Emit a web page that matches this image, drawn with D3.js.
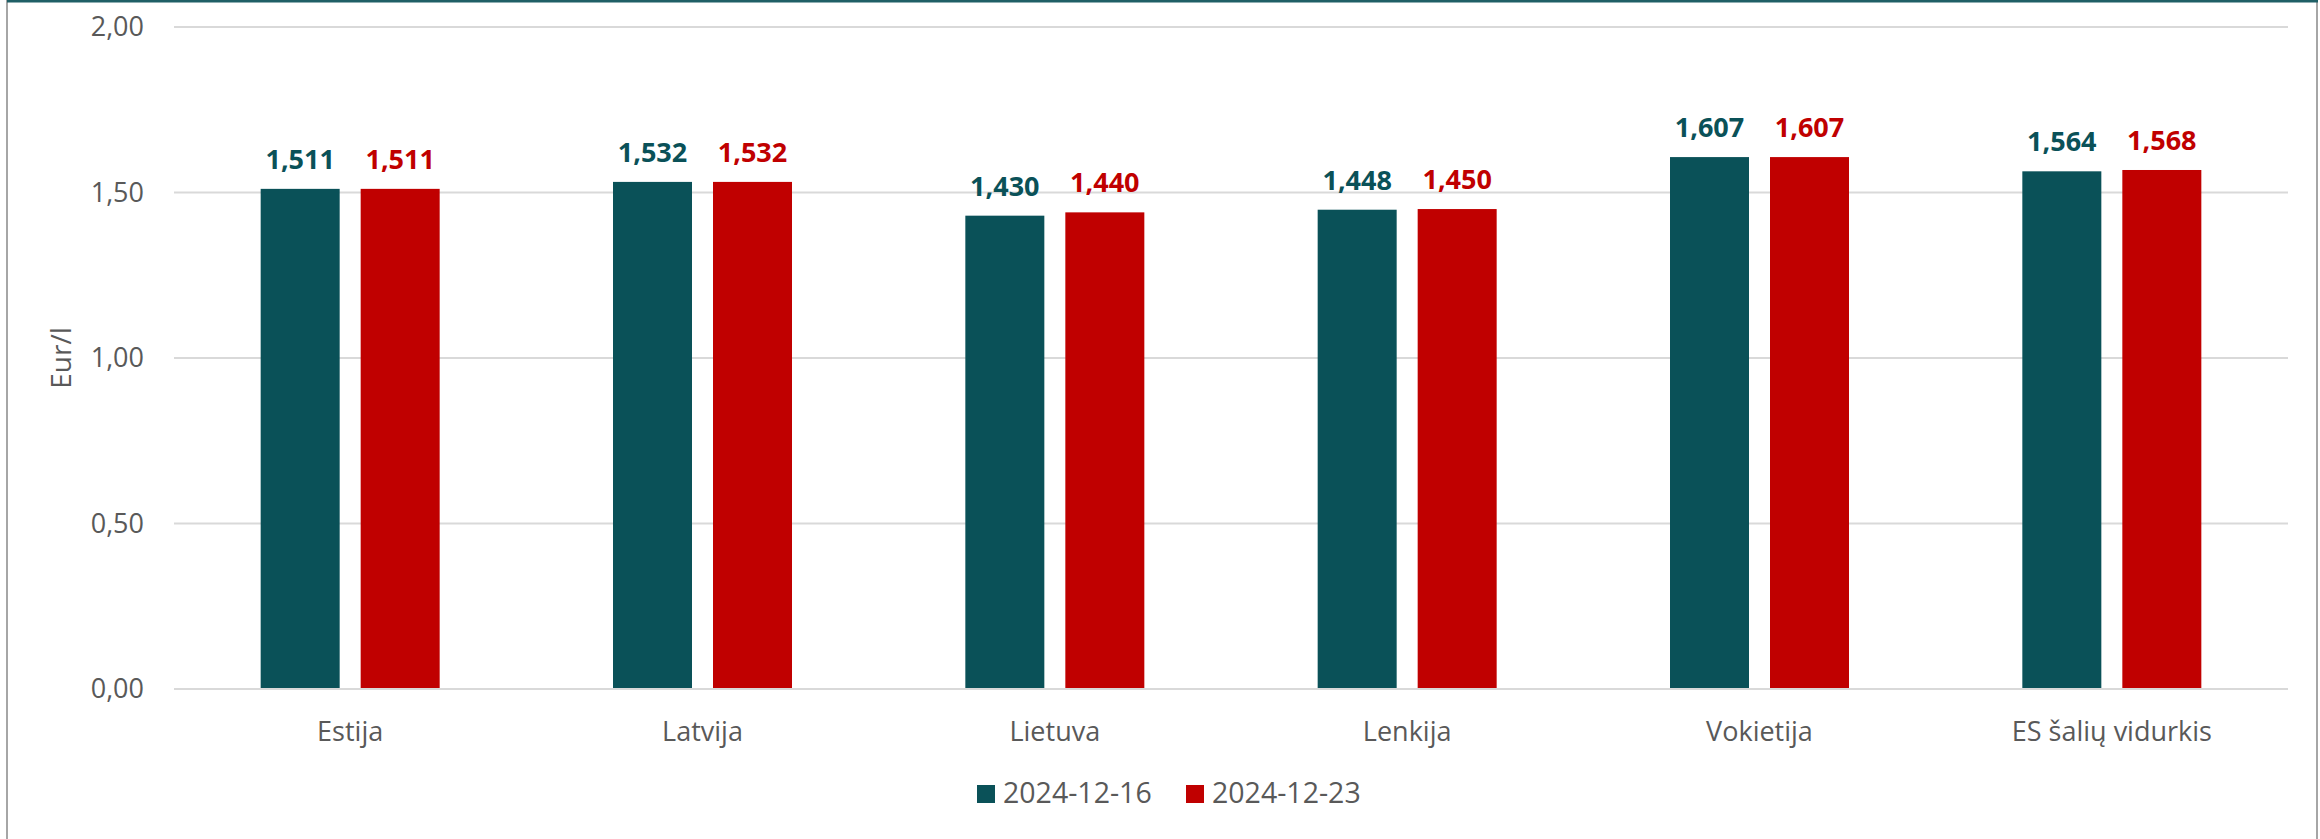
<!DOCTYPE html>
<html><head><meta charset="utf-8">
<script src="https://cdn.jsdelivr.net/npm/d3@7"></script>
<style>html,body{margin:0;padding:0;background:#fff;}svg{display:block;}</style>
</head><body>
<svg id="c" width="2320" height="839"></svg>
<script>
const categories = ["Estija","Latvija","Lietuva","Lenkija","Vokietija","ES šalių vidurkis"];
const seriesNames = ["2024-12-16","2024-12-23"];
const values1 = [1.511,1.532,1.430,1.448,1.607,1.564];
const values2 = [1.511,1.532,1.440,1.450,1.607,1.568];
const yTicks = [0,0.5,1,1.5,2];
const colors = ["#0a5158","#c00000"];
const yTitle = "Eur/l";

const svg = d3.select("#c");
const W=2320,H=839;
const font = "'Open Sans', sans-serif";
const textGray = "#595959";

// frame
svg.append("rect").attr("x",7).attr("y",1).attr("width",2310).attr("height",H+5)
  .attr("fill","#fff").attr("stroke","#a6a6a6").attr("stroke-width",2);
svg.append("line").attr("x1",7).attr("x2",2318).attr("y1",1).attr("y2",1)
  .attr("stroke","#1f5f66").attr("stroke-width",3);

const L=174,R=2288,T=27,B=689;
const x0 = d3.scaleBand().domain(categories).range([L,R]).paddingInner(0).paddingOuter(0);
const y = d3.scaleLinear().domain([0,2]).range([B,T]);
const fmt = v => v.toFixed(2).replace(".",",");
const fmt3 = v => v.toFixed(3).replace(".",",");

// gridlines
svg.append("g").selectAll("line").data(yTicks).join("line")
  .attr("x1",L).attr("x2",R).attr("y1",d=>y(d)).attr("y2",d=>y(d))
  .attr("stroke","#d9d9d9").attr("stroke-width",2);

// y tick labels
svg.append("g").selectAll("text").data(yTicks).join("text")
  .attr("x",144).attr("y",d=>y(d)).attr("dy","0.35em").attr("text-anchor","end")
  .attr("font-family",font).attr("font-size",27).attr("fill",textGray).text(fmt);

// y title
svg.append("text").attr("transform",`translate(71,${(T+B)/2}) rotate(-90)`)
  .attr("text-anchor","middle").attr("font-family",font).attr("font-size",28)
  .attr("fill",textGray).text(yTitle);

const barW=79, gap=21;
const series=[values1,values2];
series.forEach((vals,si)=>{
  const g = svg.append("g");
  const xs = (c)=> x0(c)+x0.bandwidth()/2 + (si===0 ? -gap/2-barW : gap/2);
  g.selectAll("rect").data(categories).join("rect")
    .attr("x",c=>xs(c)).attr("width",barW)
    .attr("y",(c,i)=>y(vals[i])).attr("height",(c,i)=>y(0)-y(vals[i]))
    .attr("fill",colors[si]);
  g.selectAll("text").data(categories).join("text")
    .attr("x",c=>xs(c)+barW/2).attr("y",(c,i)=>y(vals[i])-20)
    .attr("text-anchor","middle").attr("font-family",font).attr("font-weight","bold")
    .attr("font-size",27).attr("fill",colors[si]).text((c,i)=>fmt3(vals[i]));
});

// x axis baseline
svg.append("line").attr("x1",L).attr("x2",R).attr("y1",B).attr("y2",B)
  .attr("stroke","#d9d9d9").attr("stroke-width",2);

// category labels
svg.append("g").selectAll("text").data(categories).join("text")
  .attr("x",c=>x0(c)+x0.bandwidth()/2).attr("y",741).attr("text-anchor","middle")
  .attr("font-family",font).attr("font-size",27).attr("fill",textGray).text(c=>c);

// legend
const legX=[977,1186];
const lg = svg.append("g");
seriesNames.forEach((n,i)=>{
  lg.append("rect").attr("x",legX[i]).attr("y",785).attr("width",18).attr("height",18).attr("fill",colors[i]);
  lg.append("text").attr("x",legX[i]+26).attr("y",803).attr("font-family",font)
    .attr("font-size",28.5).attr("fill",textGray).text(n);
});
</script>
</body></html>
